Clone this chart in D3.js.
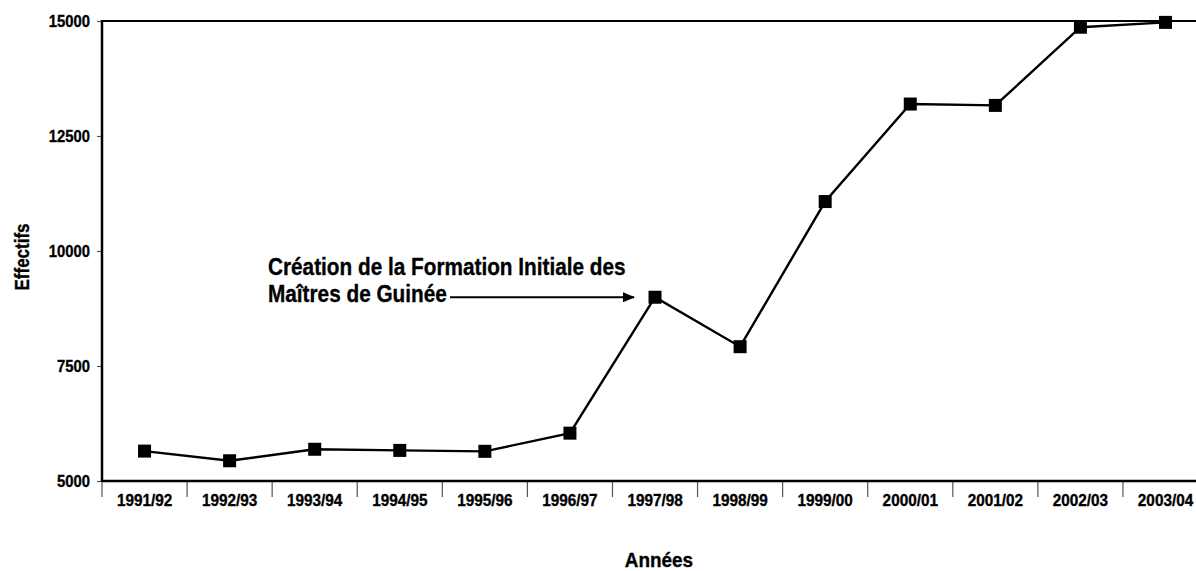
<!DOCTYPE html>
<html>
<head>
<meta charset="utf-8">
<script src="https://cdn.jsdelivr.net/npm/d3@7"></script>
<style>
  body { margin: 0; background: #fff; }
  svg { display: block; font-family: "Liberation Sans", Arial, Helvetica, sans-serif; font-weight: bold; }
  svg text { stroke: #000; stroke-width: 0.35px; }
  .axis path { display: none; }
  .axis text { fill: #000; font-weight: bold; }
</style>
</head>
<body>
<div id="chart"></div>
<script>
'use strict';

// data
const years = ['1991/92', '1992/93', '1993/94', '1994/95', '1995/96', '1996/97', '1997/98',
    '1998/99', '1999/00', '2000/01', '2001/02', '2002/03', '2003/04'];
const effectifs = [5650, 5440, 5690, 5665, 5645, 6040, 8995, 7920, 11075, 13195, 13165, 14865, 14970];
const yTicks = [5000, 7500, 10000, 12500, 15000];
const noteLines = ['Création de la Formation Initiale des', 'Maîtres de Guinée'];
const noteYear = '1997/98';

const width = 1196;
const height = 571;
const margin = {top: 21, left: 102};
const bandWidth = 85.08;
const plotBottom = 481;

/**
 * Narrow the glyphs of a text selection (no condensed font installed)
 * @param {Object} sel - d3 selection of text nodes
 * @param {Number} factor - horizontal squeeze
 */
function squeeze(sel, factor) {
    sel.each(function() {
        let len = this.getComputedTextLength();
        d3.select(this)
            .attr('textLength', len * factor)
            .attr('lengthAdjust', 'spacingAndGlyphs');
    });
}

let svg = d3.select('#chart')
    .append('svg')
    .attr('width', width)
    .attr('height', height);

let x = d3.scaleBand()
    .domain(years)
    .range([margin.left, margin.left + bandWidth * years.length]);

let y = d3.scaleLinear()
    .domain([5000, 15000])
    .range([plotBottom, margin.top]);

// y axis ticks and labels
let yAxis = d3.axisLeft(y)
    .tickValues(yTicks)
    .tickSize(5)
    .tickPadding(7)
    .tickFormat(d3.format('d'));

let gY = svg.append('g')
    .attr('class', 'axis')
    .attr('transform', 'translate(' + margin.left + ',0)')
    .call(yAxis);
gY.selectAll('line').attr('stroke', '#555').attr('stroke-width', 1.2);
gY.selectAll('text').style('font-size', '17px').call(squeeze, 0.87);

// x axis labels
let xAxis = d3.axisBottom(x)
    .tickSize(0)
    .tickPadding(13);

let gX = svg.append('g')
    .attr('class', 'axis')
    .attr('transform', 'translate(0,' + plotBottom + ')')
    .call(xAxis);
gX.selectAll('text').style('font-size', '17px').call(squeeze, 0.9);

// separators between categories
svg.append('g')
    .selectAll('line')
    .data(years)
    .join('line')
    .attr('x1', d => x(d))
    .attr('x2', d => x(d))
    .attr('y1', plotBottom)
    .attr('y2', plotBottom + 16)
    .attr('stroke', '#555')
    .attr('stroke-width', 1.2);

// frame
let x0 = x.range()[0], x1 = x.range()[1];
svg.append('line')
    .attr('x1', x0).attr('x2', x1)
    .attr('y1', y(15000)).attr('y2', y(15000))
    .attr('stroke', '#000').attr('stroke-width', 2);
svg.append('line')
    .attr('x1', x0).attr('x2', x1)
    .attr('y1', y(5000)).attr('y2', y(5000))
    .attr('stroke', '#000').attr('stroke-width', 2.5);
svg.append('line')
    .attr('x1', x0).attr('x2', x0)
    .attr('y1', y(15000) - 1).attr('y2', y(5000) + 1)
    .attr('stroke', '#000').attr('stroke-width', 2.5);

// the line
let cx = d => x(d) + x.bandwidth() / 2;
let line = d3.line()
    .x((d, i) => cx(years[i]))
    .y(d => y(d));

svg.append('path')
    .datum(effectifs)
    .attr('d', line)
    .attr('fill', 'none')
    .attr('stroke', '#000')
    .attr('stroke-width', 2.4);

// square markers
let size = 13;
svg.append('g')
    .selectAll('rect')
    .data(effectifs)
    .join('rect')
    .attr('x', (d, i) => cx(years[i]) - size / 2)
    .attr('y', d => y(d) - size / 2)
    .attr('width', size)
    .attr('height', size)
    .attr('fill', '#000');

// axis titles
svg.append('text')
    .attr('transform', 'translate(29,257) rotate(-90)')
    .attr('text-anchor', 'middle')
    .style('font-size', '21px')
    .text('Effectifs')
    .call(squeeze, 0.81);

svg.append('text')
    .attr('x', 659)
    .attr('y', 567)
    .attr('text-anchor', 'middle')
    .style('font-size', '21px')
    .text('Années')
    .call(squeeze, 0.9);

// annotation
let noteIndex = years.indexOf(noteYear);
let noteY = y(effectifs[noteIndex]);

svg.append('defs')
    .append('marker')
    .attr('id', 'arrow')
    .attr('viewBox', '0 0 12 10')
    .attr('refX', 11)
    .attr('refY', 5)
    .attr('markerWidth', 6)
    .attr('markerHeight', 5)
    .attr('markerUnits', 'strokeWidth')
    .attr('orient', 'auto')
    .append('path')
    .attr('d', 'M0,0 L12,5 L0,10 Z')
    .attr('fill', '#000');

svg.append('line')
    .attr('x1', 450)
    .attr('x2', cx(noteYear) - 21)
    .attr('y1', noteY)
    .attr('y2', noteY)
    .attr('stroke', '#000')
    .attr('stroke-width', 2)
    .attr('marker-end', 'url(#arrow)');

svg.append('g')
    .selectAll('text')
    .data(noteLines)
    .join('text')
    .attr('x', 268)
    .attr('y', (d, i) => 275 + i * 27)
    .style('font-size', '24px')
    .text(d => d)
    .call(squeeze, 0.865);
</script>
</body>
</html>
